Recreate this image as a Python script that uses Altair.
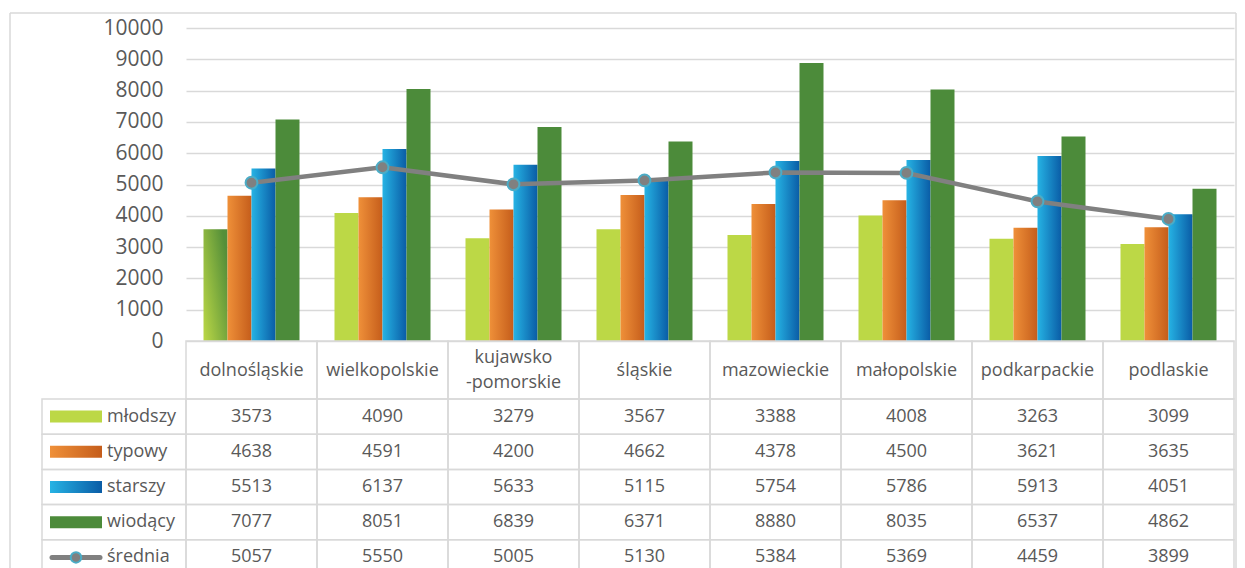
import altair as alt
import pandas as pd

# ---------------- data ----------------
categories = ["dolnośląskie", "wielkopolskie", "kujawsko-pomorskie", "śląskie",
              "mazowieckie", "małopolskie", "podkarpackie", "podlaskie"]
header_labels = ["dolnośląskie", "wielkopolskie", "kujawsko\n-pomorskie", "śląskie",
                 "mazowieckie", "małopolskie", "podkarpackie", "podlaskie"]
series_names = ["młodszy", "typowy", "starszy", "wiodący", "średnia"]
bar_series = ["młodszy", "typowy", "starszy", "wiodący"]

mlodszy = [3573, 4090, 3279, 3567, 3388, 4008, 3263, 3099]
typowy = [4638, 4591, 4200, 4662, 4378, 4500, 3621, 3635]
starszy = [5513, 6137, 5633, 5115, 5754, 5786, 5913, 4051]
wiodacy = [7077, 8051, 6839, 6371, 8880, 8035, 6537, 4862]
srednia = [5057, 5550, 5005, 5130, 5384, 5369, 4459, 3899]

y_ticks = list(range(0, 10001, 1000))

series_values = [mlodszy, typowy, starszy, wiodacy, srednia]
records = []
for name, vals in zip(series_names, series_values):
    for cat, v in zip(categories, vals):
        records.append({"series": name, "category": cat, "value": v})
df = pd.DataFrame(records)
header_df = pd.DataFrame({"category": categories, "label": header_labels})
legend_df = pd.DataFrame({"series": series_names})
one_df = pd.DataFrame({"k": [0]})

# ---------------- style ----------------
FONT = "Open Sans"
TEXT = "#595959"
GRID = "#D9D9D9"
W = 1048
H_TOP = 313
H_HEAD = 58
H_ROWS = 176

LIME = "#BCD846"
GREEN = "#4C8B3A"
GRAY = "#808080"
MARKER_STROKE = "#4BACC6"


def lin_grad(c0, c1, x1=0, y1=0, x2=1, y2=0):
    return {"gradient": "linear", "x1": x1, "y1": y1, "x2": x2, "y2": y2,
            "stops": [{"offset": 0, "color": c0}, {"offset": 1, "color": c1}]}


ORANGE = lin_grad("#EF9039", "#C55D1B")
BLUE = lin_grad("#26B3E4", "#0A5CA6")
LIME_GREEN = lin_grad(LIME, "#558F39", 0, 1, 1, 0.3)

# ---------------- top chart ----------------
x_top = alt.X("category:N", sort=categories,
              scale=alt.Scale(domain=categories, paddingInner=0, paddingOuter=0), axis=None)
y_top = alt.Y("value:Q", scale=alt.Scale(domain=[0, 10000], nice=False),
              axis=alt.Axis(values=y_ticks, format="d", title=None, grid=True, gridColor=GRID,
                            gridWidth=1.5, domain=False, ticks=False, labelFont=FONT,
                            labelFontSize=21, labelColor=TEXT, labelPadding=23))
xoff = alt.XOffset("series:N", sort=bar_series,
                   scale=alt.Scale(domain=bar_series, paddingInner=0, paddingOuter=0.729))

base = alt.Chart(df)


def bar_layer(expr, color):
    return base.transform_filter(expr).mark_bar(color=color).encode(
        x=x_top, xOffset=xoff, y=y_top)


bars = [
    bar_layer("datum.series === 'młodszy' && datum.category !== 'dolnośląskie'", LIME),
    bar_layer("datum.series === 'młodszy' && datum.category === 'dolnośląskie'", LIME_GREEN),
    bar_layer("datum.series === 'typowy'", ORANGE),
    bar_layer("datum.series === 'starszy'", BLUE),
    bar_layer("datum.series === 'wiodący'", GREEN),
]
avg = base.transform_filter("datum.series === 'średnia'")
line = avg.mark_line(color=GRAY, strokeWidth=4.5).encode(x=x_top, y=y_top)
pts = avg.mark_point(filled=True, color=GRAY, stroke=MARKER_STROKE, strokeWidth=2,
                     size=140, opacity=1).encode(x=x_top, y=y_top)

top = alt.layer(*bars, line, pts).properties(width=W, height=H_TOP)

# ---------------- header row ----------------
x_tab = alt.X("category:N", sort=categories,
              scale=alt.Scale(domain=categories, paddingInner=0, paddingOuter=0), axis=None)
head_base = alt.Chart(header_df)
head_cells = head_base.mark_rect(fillOpacity=0, stroke=GRID, strokeWidth=1.5).encode(
    x=x_tab, y=alt.value(0), y2=alt.value(H_HEAD))
head_text1 = head_base.transform_filter("indexof(datum.label, '\\n') < 0").mark_text(
    font=FONT, fontSize=18, color=TEXT, baseline="middle").encode(
    x=x_tab, y=alt.value(30), text="label:N")
head_text2 = head_base.transform_filter("indexof(datum.label, '\\n') >= 0").mark_text(
    font=FONT, fontSize=18, color=TEXT, lineBreak="\n", lineHeight=25,
    baseline="middle").encode(x=x_tab, y=alt.value(17), text="label:N")
header = alt.layer(head_cells, head_text1, head_text2).properties(width=W, height=H_HEAD)

# ---------------- table rows ----------------
y_tab = alt.Y("series:N", sort=series_names,
              scale=alt.Scale(domain=series_names, paddingInner=0, paddingOuter=0), axis=None)
cells = alt.Chart(df).mark_rect(fillOpacity=0, stroke=GRID, strokeWidth=1.5).encode(x=x_tab, y=y_tab)
vals = alt.Chart(df).mark_text(font=FONT, fontSize=18, color=TEXT, baseline="middle").encode(
    x=x_tab, y=y_tab, text=alt.Text("value:Q", format="d"))
leg_cells = alt.Chart(legend_df).mark_rect(fillOpacity=0, stroke=GRID, strokeWidth=1.5).encode(
    x=alt.value(-144), x2=alt.value(0), y=y_tab)

leg_base = alt.Chart(legend_df)


def swatch(name, color):
    return leg_base.transform_filter(f"datum.series === '{name}'").mark_rect(
        color=color, height=12).encode(x=alt.value(-136), x2=alt.value(-84), y=y_tab)


swatches = [swatch("młodszy", LIME), swatch("typowy", ORANGE),
            swatch("starszy", BLUE), swatch("wiodący", GREEN)]
leg_avg = leg_base.transform_filter("datum.series === 'średnia'")
leg_line = leg_avg.mark_rule(color=GRAY, strokeWidth=5, strokeCap="round").encode(
    x=alt.value(-134), x2=alt.value(-86), y=y_tab)
leg_pt = leg_avg.mark_point(filled=True, color=GRAY, stroke=MARKER_STROKE, strokeWidth=2,
                            size=110, opacity=1).encode(x=alt.value(-110), y=y_tab)
leg_text = leg_base.mark_text(font=FONT, fontSize=18, color=TEXT, align="left",
                              baseline="middle").encode(x=alt.value(-79), y=y_tab, text="series:N")

FR_L, FR_R, FR_T = -176, 1050, -386
frame_left = alt.Chart(one_df).mark_rule(color=GRID, strokeWidth=1.5).encode(
    x=alt.value(FR_L), y=alt.value(FR_T), y2=alt.value(H_ROWS))
frame_top = alt.Chart(one_df).mark_rule(color=GRID, strokeWidth=1.5).encode(
    x=alt.value(FR_L), x2=alt.value(FR_R), y=alt.value(FR_T))
frame_right = alt.Chart(one_df).mark_rule(color=GRID, strokeWidth=1.5).encode(
    x=alt.value(FR_R), y=alt.value(FR_T), y2=alt.value(H_ROWS))

rows = alt.layer(cells, vals, leg_cells, *swatches, leg_line, leg_pt, leg_text,
                 frame_left, frame_top, frame_right).properties(width=W, height=H_ROWS)

chart = alt.vconcat(top, header, rows, spacing=0, bounds="flush").resolve_scale(
    x="independent", y="independent"
).properties(
    padding={"left": 1, "top": 4, "right": 0, "bottom": 0}
).configure_view(strokeWidth=0)

chart.save("out.html", embed_options={"renderer": "svg", "actions": False})
